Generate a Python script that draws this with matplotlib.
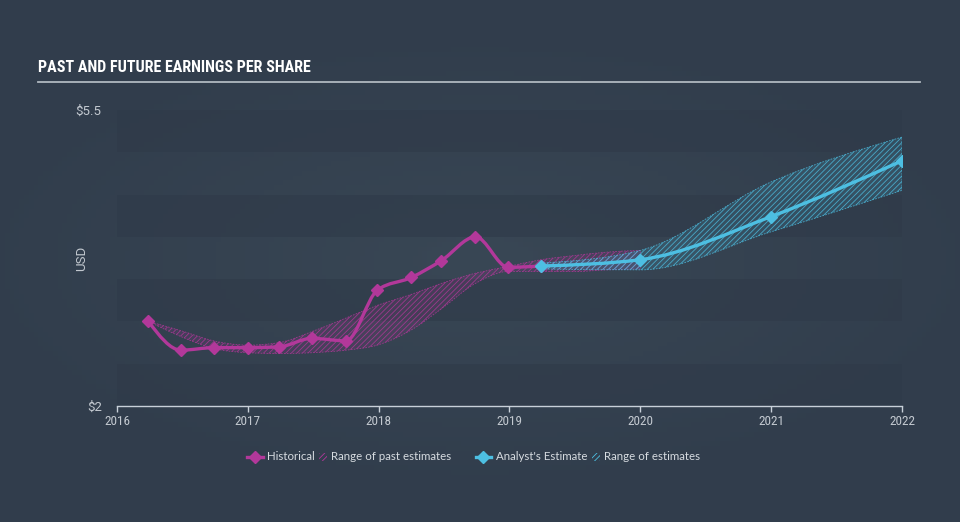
import numpy as np
import matplotlib
matplotlib.use("Agg")
import matplotlib.pyplot as plt
from matplotlib.path import Path
from matplotlib.patches import PathPatch, Rectangle
from matplotlib.lines import Line2D

# ---------------- data ----------------
hist_x = [2016.24, 2016.49, 2016.74, 2017.00, 2017.24, 2017.49, 2017.75,
          2017.99, 2018.25, 2018.48, 2018.74, 2018.99, 2019.24]
hist_y = [3.00, 2.66, 2.69, 2.69, 2.70, 2.80, 2.77,
          3.37, 3.52, 3.72, 4.00, 3.64, 3.655]

past_x = [2016.24, 2016.49, 2016.74, 2017.00, 2017.24, 2017.49, 2017.75,
          2017.99, 2018.25, 2018.48, 2018.74, 2018.99, 2019.24, 2019.50,
          2019.75, 2020.00]
past_hi = [3.00, 2.89, 2.77, 2.72, 2.75, 2.88, 3.04,
           3.19, 3.32, 3.45, 3.57, 3.65, 3.73, 3.78, 3.82, 3.84]
past_lo = [3.00, 2.82, 2.68, 2.63, 2.62, 2.63, 2.66,
           2.72, 2.90, 3.15, 3.45, 3.59, 3.59, 3.59, 3.61, 3.62]

est_x = [2019.24, 2020.00, 2021.00, 2022.00]
est_y = [3.655, 3.73, 4.24, 4.90]
est_hi = [3.69, 3.84, 4.65, 5.18]
est_lo = [3.62, 3.61, 4.06, 4.55]

year_ticks = [2016, 2017, 2018, 2019, 2020, 2021, 2022]
year_labels = ["2016", "2017", "2018", "2019", "2020", "2021", "2022"]
y_ticks = [2, 5.5]
y_labels = ["$2", "$5.5"]

title = "PAST AND FUTURE EARNINGS PER SHARE"
legend_labels = ["Historical", "Range of past estimates",
                 "Analyst's Estimate", "Range of estimates"]

# ---------------- style ----------------
MAG = "#b2389a"
CYAN = "#4dbfe2"
BG = "#354350"
BAND = "#2f3a49"
TXT = "#c3c9d0"
COND = ["Roboto Condensed", "DejaVu Sans"]

W, H = 960, 522
fig = plt.figure(figsize=(W / 100, H / 100), dpi=100)
fig.patch.set_facecolor(BG)

# subtle radial background gradient
bg_ax = fig.add_axes([0, 0, 1, 1], zorder=-10)
gx, gy = np.meshgrid(np.linspace(-1, 1, 200), np.linspace(-1, 1, 110))
r = np.clip(np.sqrt((gx * 0.9) ** 2 + (gy * 1.1) ** 2), 0, 1)
c0 = np.array([0x39, 0x47, 0x55]) / 255
c1 = np.array([0x31, 0x3d, 0x4c]) / 255
img = c0[None, None, :] * (1 - r[..., None]) + c1[None, None, :] * r[..., None]
bg_ax.imshow(img, aspect="auto", extent=[0, 1, 0, 1])
bg_ax.axis("off")


def px(x):
    return x / W


def py(y):
    return 1 - y / H


ax = fig.add_axes([px(117), py(406), px(902) - px(117), py(110) - py(406)])
ax.set_facecolor("none")
ax.set_xlim(2016, 2022)
ax.set_ylim(2, 5.5)

for lo in [2.0, 3.0, 4.0, 5.0]:
    ax.axhspan(lo, lo + 0.5, color=BAND, alpha=0.6, lw=0, zorder=0)


def monotone_bezier(x, y):
    x = np.asarray(x, float)
    y = np.asarray(y, float)
    n = len(x)
    h = np.diff(x)
    s = np.diff(y) / h
    t = np.zeros(n)
    for k in range(1, n - 1):
        p = (s[k - 1] * h[k] + s[k] * h[k - 1]) / (h[k - 1] + h[k])
        t[k] = (np.sign(s[k - 1]) + np.sign(s[k])) * min(abs(s[k - 1]), abs(s[k]), 0.5 * abs(p))
    if n > 2:
        t[0] = (3 * s[0] - t[1]) / 2
        t[-1] = (3 * s[-1] - t[-2]) / 2
    else:
        t[0] = t[-1] = s[0]
    verts = [(x[0], y[0])]
    for k in range(n - 1):
        dx = h[k] / 3
        verts.append((x[k] + dx, y[k] + dx * t[k]))
        verts.append((x[k + 1] - dx, y[k + 1] - dx * t[k + 1]))
        verts.append((x[k + 1], y[k + 1]))
    return verts


def curve(x, y):
    v = monotone_bezier(x, y)
    codes = [Path.MOVETO] + [Path.CURVE4] * (len(v) - 1)
    return Path(v, codes)


def band(x, hi, lo):
    vu = monotone_bezier(x, hi)
    vl = monotone_bezier(x, lo)[::-1]
    v = vu + [vl[0]] + vl[1:] + [vu[0]]
    codes = ([Path.MOVETO] + [Path.CURVE4] * (len(vu) - 1) + [Path.LINETO]
             + [Path.CURVE4] * (len(vl) - 1) + [Path.CLOSEPOLY])
    return Path(v, codes)


plt.rcParams["hatch.linewidth"] = 0.6

# past estimates band
ax.add_patch(PathPatch(band(past_x, past_hi, past_lo), facecolor=MAG, alpha=0.15, lw=0, zorder=2))
ax.add_patch(PathPatch(band(past_x, past_hi, past_lo), facecolor="none", edgecolor=MAG,
                       hatch="//////", lw=0.6, ls=(0, (2, 1.5)), alpha=0.8, zorder=2))
# future estimates band
ax.add_patch(PathPatch(band(est_x, est_hi, est_lo), facecolor=CYAN, alpha=0.15, lw=0, zorder=3))
ax.add_patch(PathPatch(band(est_x, est_hi, est_lo), facecolor="none", edgecolor=CYAN,
                       hatch="//////", lw=0.6, ls=(0, (2, 1.5)), alpha=0.8, zorder=3))

# lines
ax.add_patch(PathPatch(curve(hist_x, hist_y), facecolor="none", edgecolor=MAG, lw=2.4,
                       capstyle="round", joinstyle="round", zorder=5))
ax.plot(hist_x, hist_y, ls="none", marker="D", ms=6.5, color=MAG, zorder=6)
ax.add_patch(PathPatch(curve(est_x, est_y), facecolor="none", edgecolor=CYAN, lw=2.4,
                       capstyle="round", joinstyle="round", zorder=7))
ax.plot(est_x, est_y, ls="none", marker="D", ms=6.5, color=CYAN, zorder=8)

# axes styling
for sp in ["top", "right", "left"]:
    ax.spines[sp].set_visible(False)
ax.spines["bottom"].set_color("#c8d0d9")
ax.spines["bottom"].set_linewidth(1.0)
ax.set_xticks(year_ticks)
ax.set_xticklabels(year_labels, family=COND, stretch="condensed",
                   fontsize=9.5, color=TXT)
ax.tick_params(axis="x", direction="out", length=4.5, width=1, color="#c8d0d9", pad=2)
ax.set_yticks(y_ticks)
ax.set_yticklabels(y_labels, family=["Roboto", "DejaVu Sans"], fontsize=9.5, color=TXT)
ax.tick_params(axis="y", length=0, pad=11)

fig.text(px(82), py(258), "USD", rotation=90, ha="center", va="center",
         family=["Roboto", "DejaVu Sans"], fontsize=9.5, color=TXT)

# title
fig.text(px(38), py(68), title, ha="left", va="center",
         family=COND, stretch="condensed", fontweight="bold",
         fontsize=11.5, color="#ffffff")
fig.add_artist(Line2D([px(38), px(920)], [py(81.5), py(81.5)], color="#b0b8c0", lw=1.3))

# legend (in pixel coordinates)
lg = fig.add_axes([0, 0, 1, 1], zorder=20)
lg.set_xlim(0, W)
lg.set_ylim(H, 0)
lg.axis("off")
lfont = dict(family=["Lato", "DejaVu Sans"], fontsize=8.3, color="#d6dbe0", va="center", ha="left")
ly = 457
lg.plot([247, 263], [ly, ly], color=MAG, lw=2.4)
lg.plot([255], [ly], marker="D", ms=6.5, color=MAG)
lg.text(267, ly, legend_labels[0], **lfont)
lg.add_patch(Rectangle((319, ly - 4), 8, 8, facecolor="none", edgecolor=MAG, hatch="//////", lw=0))
lg.text(331, ly, legend_labels[1], **lfont)
lg.plot([476, 491], [ly, ly], color=CYAN, lw=2.4)
lg.plot([483], [ly], marker="D", ms=6.5, color=CYAN)
lg.text(496, ly, legend_labels[2], **lfont)
lg.add_patch(Rectangle((592, ly - 4), 8, 8, facecolor="none", edgecolor=CYAN, hatch="//////", lw=0))
lg.text(604, ly, legend_labels[3], **lfont)

fig.savefig("out.png", dpi=100, facecolor=fig.get_facecolor())
